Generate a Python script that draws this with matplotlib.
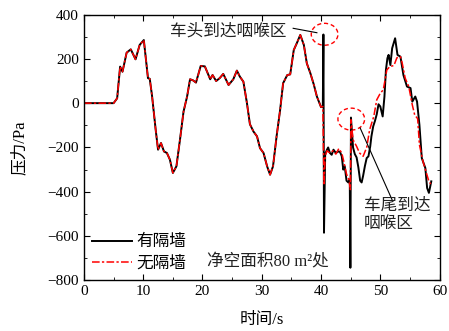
import matplotlib
matplotlib.use('Agg')
import matplotlib.pyplot as plt
from matplotlib.patches import Ellipse
from matplotlib.ticker import MultipleLocator

plt.rcParams['font.family'] = ['Liberation Serif', 'Noto Sans CJK SC']

# 0-40 s: both curves coincide
t_common = [0, 5.0, 5.6, 6.1, 6.5, 7.2, 7.9, 8.7, 9.4, 10.1, 10.8, 11.1, 11.5, 12.1, 12.5,
            13.0, 13.5, 14.0, 14.5, 15.0, 15.6, 16.2, 16.8, 17.4, 17.9, 18.4, 18.9, 19.7,
            20.4, 21.3, 21.7, 22.3, 22.9, 23.5, 24.4, 25.2, 25.8, 26.3, 26.9, 27.5, 28.0,
            28.6, 29.2, 29.7, 30.3, 30.9, 31.4, 31.9, 32.5, 33.1, 33.6, 34.3, 34.8, 35.4,
            35.9, 36.5, 37.1, 37.6, 38.2, 38.8, 39.3, 40.0, 40.3]
p_common = [0, 0, 22, 165, 142, 228, 243, 198, 263, 285, 113, 110, 30, -120, -210,
            -180, -218, -225, -255, -315, -285, -165, -38, 30, 108, 103, 93, 168,
            166, 108, 127, 100, 113, 132, 82, 108, 147, 120, 97, 0, -95,
            -128, -150, -203, -225, -285, -323, -285, -150, -30, 90, 127, 130, 240,
            270, 308, 263, 180, 135, 82, 30, -18, -15]

# 有隔墙 after 40 s
t_wall = [40.4, 40.5, 40.7, 41.0, 41.2, 41.5, 41.8, 42.1, 42.5, 42.9, 43.2, 43.5, 43.75,
          44.0, 44.3, 44.6, 44.85, 44.95, 45.05, 45.4, 45.7, 46.0, 46.3, 46.6, 46.85,
          47.1, 47.4, 47.7, 48.0, 48.3, 48.5, 48.8, 49.1, 49.4, 49.7, 50.0, 50.4, 50.7,
          50.95, 51.2, 51.4, 51.7, 52.0, 52.5, 52.9, 53.4, 53.9, 54.5, 55.1, 55.4, 55.9,
          56.2, 56.6, 57.0, 57.6, 57.9, 58.2, 58.6]
p_wall = [310, -585, -230, -210, -200, -225, -233, -210, -225, -218, -220, -240, -300,
          -285, -350, -358, -345, -743, -65, -200, -230, -245, -290, -350, -358,
          -328, -284, -248, -240, -195, -150, -105, -80, -50, -5, -15, -60, 30,
          150, 203, 218, 172, 248, 293, 218, 210, 127, 75, 68, 7, 30,
          7, -98, -248, -293, -383, -405, -353]

# 无隔墙 after 40 s
t_nowall = [40.5, 40.7, 41.0, 41.5, 42.0, 42.5, 43.0, 43.5, 43.9, 44.3, 44.7, 44.95,
            45.05, 45.4, 46.0, 46.5, 47.1, 47.7, 48.2, 48.9, 49.4, 50.0, 50.5, 51.1,
            51.6, 52.3, 52.8, 53.4, 53.7, 54.2, 54.8, 55.4, 55.8, 56.3, 56.6, 57.2,
            57.7, 58.2, 58.5]
p_nowall = [-370, -240, -215, -225, -215, -230, -205, -225, -270, -320, -345, -390,
            -75, -165, -195, -225, -240, -200, -120, -60, 15, 45, 60, 150,
            165, 170, 205, 210, 180, 113, 75, -8, -53, -70, -188, -263,
            -308, -353, -365]

fig = plt.figure(figsize=(4.49, 3.31), dpi=100)
ax = fig.add_axes([0.187, 0.153, 0.792, 0.803])

ax.plot(t_common + t_wall, p_common + p_wall, color='black', lw=1.4, label='有隔墙')
ax.plot(t_common + t_nowall, p_common + p_nowall, color='red', lw=1.1,
        dashes=(5, 1.5, 1.5, 1.5), label='无隔墙')

# 咽喉区 markers
for cx, cy in [(40.6, 311), (45.1, -72)]:
    ax.add_patch(Ellipse((cx, cy), 4.5, 99, fill=False, ec='red', lw=1.0,
                         ls=(0, (3, 2))))

ax.text(14.6, 325, '车头到达咽喉区', fontsize=12, color='#222', va='center')
ax.plot([35.3, 39.3], [338, 318], color='black', lw=0.8)
ax.text(47.2, -505, '车尾到达\n咽喉区', fontsize=12, color='#222', va='center',
        linespacing=1.15)
ax.plot([46.6, 52.1], [-112, -443], color='black', lw=0.8)
ax.text(0.345, 0.07, '净空面积80 m²处', transform=ax.transAxes, fontsize=12,
        color='#222', va='center')

ax.set_xlim(0, 60)
ax.set_ylim(-800, 400)
ax.xaxis.set_major_locator(MultipleLocator(10))
ax.xaxis.set_minor_locator(MultipleLocator(5))
ax.yaxis.set_major_locator(MultipleLocator(200))
ax.yaxis.set_minor_locator(MultipleLocator(100))
ax.tick_params(which='both', direction='in', top=True, right=True, labelsize=11)
ax.tick_params(which='major', length=4)
ax.tick_params(which='minor', length=2.5)
for s in ax.spines.values():
    s.set_linewidth(1.0)

ax.set_xlabel('时间/s', fontsize=12, labelpad=10)
ax.set_ylabel('压力/Pa', fontsize=12, labelpad=14)

ax.legend(loc='lower left', bbox_to_anchor=(-0.009, -0.01), frameon=False, fontsize=12,
          handlelength=2.4, handletextpad=0.25, labelspacing=0.3, borderaxespad=0.3)

fig.savefig('out.png', dpi=100)
